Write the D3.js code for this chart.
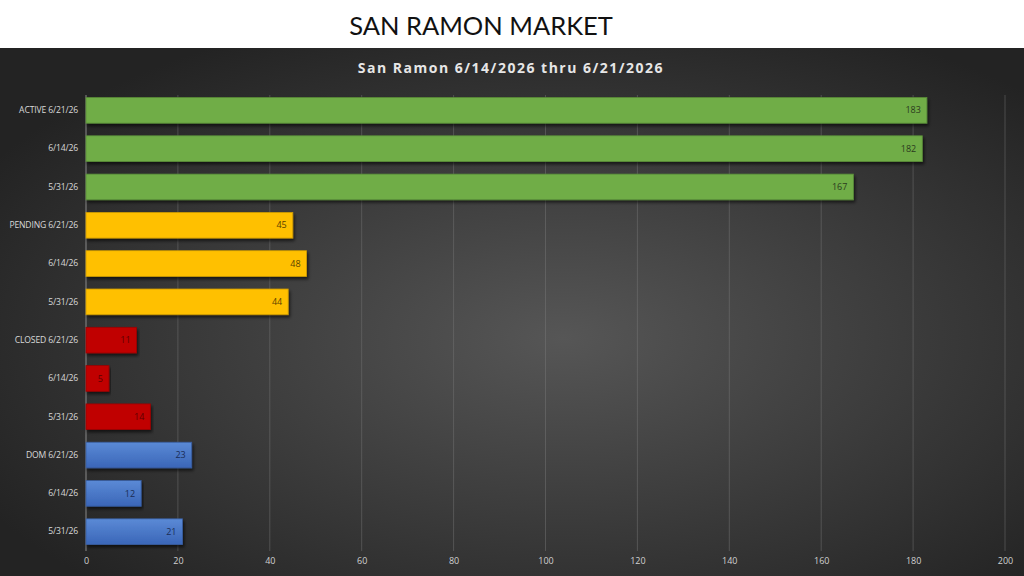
<!DOCTYPE html>
<html>
<head>
<meta charset="utf-8">
<script src="https://cdn.jsdelivr.net/npm/d3@7"></script>
<style>
  html, body { margin: 0; padding: 0; background: #fff; }
  svg { display: block; }
</style>
</head>
<body>
<svg></svg>
<script>
// data
const categories = ['ACTIVE 6/21/26', '6/14/26 ', '5/31/26 ',
  'PENDING 6/21/26', '6/14/26  ', '5/31/26  ',
  'CLOSED 6/21/26', '6/14/26   ', '5/31/26   ',
  'DOM 6/21/26', '6/14/26    ', '5/31/26    ']
const values = [183, 182, 167, 45, 48, 44, 11, 5, 14, 23, 12, 21]
const groups = ['active', 'active', 'active', 'pending', 'pending', 'pending',
  'closed', 'closed', 'closed', 'dom', 'dom', 'dom']
const xTicks = [0, 20, 40, 60, 80, 100, 120, 140, 160, 180, 200]

const width = 1024
const height = 576
const marge = {top: 95, bottom: 25, left: 86, right: 19}

const fills = {active: '#70ad47', pending: '#ffc000', closed: '#c00000', dom: '#4472c4'}
const labelColors = {active: '#2b3a1e', pending: '#5a4300', closed: '#5c0000', dom: '#1a2c55'}

const svg = d3.select('svg').attr('width', width).attr('height', height)
const defs = svg.append('defs')

// dark radial background
const bg = defs.append('radialGradient').attr('id', 'bg')
  .attr('cx', '55%').attr('cy', '55%').attr('r', '65%')
bg.append('stop').attr('offset', '0%').attr('stop-color', '#565656')
bg.append('stop').attr('offset', '100%').attr('stop-color', '#232323')

// blue bars have a light-to-dark gradient
const blue = defs.append('linearGradient').attr('id', 'blueGrad')
  .attr('x1', 0).attr('y1', 0).attr('x2', 0).attr('y2', 1)
blue.append('stop').attr('offset', '0%').attr('stop-color', '#5b8ad6')
blue.append('stop').attr('offset', '100%').attr('stop-color', '#3a66b8')

const shadow = defs.append('filter').attr('id', 'shadow')
  .attr('x', '-5%').attr('y', '-20%').attr('width', '110%').attr('height', '160%')
shadow.append('feDropShadow').attr('dx', 1.5).attr('dy', 2.5).attr('stdDeviation', 1.5)
  .attr('flood-color', '#000').attr('flood-opacity', 0.6)

svg.append('rect').attr('x', 0).attr('y', 0).attr('width', width).attr('height', 48).attr('fill', '#fff')
svg.append('rect').attr('x', 0).attr('y', 48).attr('width', width).attr('height', height - 48).attr('fill', 'url(#bg)')

svg.append('text').attr('x', 481).attr('y', 35).attr('text-anchor', 'middle')
  .attr('font-family', 'Lato, "Open Sans", sans-serif').attr('font-size', 25.5)
  .attr('fill', '#111').text('SAN RAMON MARKET')

svg.append('text').attr('x', 511).attr('y', 73).attr('text-anchor', 'middle')
  .attr('font-family', '"Open Sans", sans-serif').attr('font-size', 14).attr('font-weight', 'bold')
  .attr('letter-spacing', 1.5).attr('fill', '#e6e6e6').text('San Ramon 6/14/2026 thru 6/21/2026')

const x = d3.scaleLinear().domain([0, 200]).range([marge.left, width - marge.right])
const y = d3.scaleBand().domain(categories).range([marge.top - 4, height - marge.bottom]).paddingInner(0.33).paddingOuter(0.17)

// gridlines
svg.append('g').selectAll('line').data(xTicks.slice(1)).enter().append('line')
  .attr('x1', d => x(d)).attr('x2', d => x(d))
  .attr('y1', marge.top).attr('y2', height - marge.bottom)
  .attr('stroke', '#7a7a7a').attr('stroke-opacity', 0.45).attr('stroke-width', 1)

// axis line
svg.append('line').attr('x1', x(0)).attr('x2', x(0))
  .attr('y1', marge.top).attr('y2', height - marge.bottom)
  .attr('stroke', '#8a8a8a').attr('stroke-width', 1)

// x tick labels
const xAxis = svg.append('g').attr('transform', `translate(0,${height - marge.bottom})`)
  .call(d3.axisBottom(x).tickValues(xTicks).tickSize(0).tickPadding(7))
xAxis.select('.domain').remove()
xAxis.selectAll('text').attr('fill', '#d0d0d0').attr('font-size', 9)
  .attr('font-family', '"Open Sans", sans-serif')

// y labels
const yAxis = svg.append('g').attr('transform', `translate(${x(0)},0)`)
  .call(d3.axisLeft(y).tickSize(0).tickPadding(8))
yAxis.select('.domain').remove()
yAxis.selectAll('text').attr('fill', '#d9d9d9').attr('font-size', 8.6)
  .attr('font-family', '"Open Sans", sans-serif').attr('letter-spacing', -0.15).text(d => d.trim())

// bars
svg.append('g').selectAll('rect').data(values).enter().append('rect')
  .attr('x', x(0))
  .attr('y', (d, i) => y(categories[i]))
  .attr('width', d => x(d) - x(0))
  .attr('height', y.bandwidth())
  .attr('fill', (d, i) => groups[i] === 'dom' ? 'url(#blueGrad)' : fills[groups[i]])
  .attr('stroke', (d, i) => d3.color(fills[groups[i]]).darker(0.6))
  .attr('stroke-width', 0.8)
  .attr('filter', 'url(#shadow)')

// value labels
svg.append('g').selectAll('text').data(values).enter().append('text')
  .attr('x', d => x(d) - 6)
  .attr('y', (d, i) => y(categories[i]) + y.bandwidth() / 2)
  .attr('dy', '0.35em').attr('text-anchor', 'end')
  .attr('font-size', 9).attr('font-family', '"Open Sans", sans-serif')
  .attr('fill', (d, i) => labelColors[groups[i]])
  .text(d => d)
</script>
</body>
</html>
